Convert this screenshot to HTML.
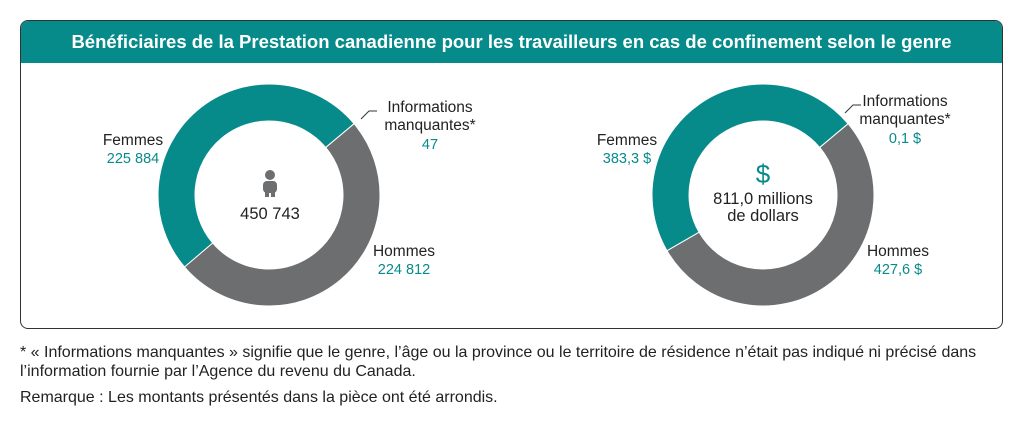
<!DOCTYPE html>
<html><head><meta charset="utf-8"><style>
body{margin:0;width:1024px;height:426px;background:#fff;font-family:"Liberation Sans",sans-serif;overflow:hidden}
.card{position:absolute;left:20px;top:20px;width:981px;height:307px;border:1.5px solid #333;border-radius:8px;overflow:hidden}
.hdr{height:42px;background:#078a8a;color:#fff;font-weight:bold;font-size:18.5px;text-align:center;line-height:42px}
.note{position:absolute;left:20px;font-size:16px;color:#222;line-height:19px}
</style></head><body>
<div class="card"><div class="hdr">Bénéficiaires de la Prestation canadienne pour les travailleurs en cas de confinement selon le genre</div></div>
<svg id="s" width="1024" height="426" style="position:absolute;left:0;top:0" font-family="Liberation Sans, sans-serif"></svg>
<div class="note" style="top:343px">* « Informations manquantes » signifie que le genre, l’âge ou la province ou le territoire de résidence n’était pas indiqué ni précisé dans<br>l’information fournie par l’Agence du revenu du Canada.</div>
<div class="note" style="top:388px">Remarque : Les montants présentés dans la pièce ont été arrondis.</div>
<script>
const categories=["Informations manquantes","Hommes","Femmes"];
const countValues=[47,224812,225884];
const dollarValues=[0.1,427.6,383.3];
const countLabels=["47","224 812","225 884"];
const dollarLabels=["0,1 $","427,6 $","383,3 $"];
const colors=["#e8a0c0","#6d6e70","#078a8a"];
const NS="http://www.w3.org/2000/svg",svg=document.getElementById('s');
function mk(t,a,p){const e=document.createElementNS(NS,t);for(const k in a)e.setAttribute(k,a[k]);(p||svg).appendChild(e);return e;}
function txt(x,y,s,fill,size,anchor,weight,name){const t=mk('text',{x:x,y:y,fill:fill,'font-size':size,'text-anchor':anchor,'font-weight':weight||'normal'});t.textContent=s;

return t;}
function donut(cx,cy,vals,labels,id){
 const R=111,r=74,tot=vals.reduce((a,b)=>a+b,0);let a=50*Math.PI/180;
 vals.forEach((v,i)=>{const a1=a+v/tot*2*Math.PI;const pt=(rr,an)=>[cx+rr*Math.sin(an),cy-rr*Math.cos(an)];
  const big=(a1-a)>Math.PI?1:0;const p0=pt(R,a),p1=pt(R,a1),q1=pt(r,a1),q0=pt(r,a);
  const p=mk('path',{d:`M${p0}A${R},${R} 0 ${big} 1 ${p1}L${q1}A${r},${r} 0 ${big} 0 ${q0}Z`,fill:colors[i],stroke:'#fff','stroke-width':1});
  
  a=a1;});
 txt(cx-136,cy-50,'Femmes','#222',15.5,'middle','normal',id+'-label-femmes');
 txt(cx-136,cy-32,labels[2],'#078a8a',14.5,'middle','normal',id+'-value-femmes');
 txt(cx+135,cy+61,'Hommes','#222',15.5,'middle','normal',id+'-label-hommes');
 txt(cx+135,cy+79,labels[1],'#078a8a',14.5,'middle','normal',id+'-value-hommes');
}
donut(269,195,countValues,countLabels,'count');
donut(763,195,dollarValues,dollarLabels,'dollar');
function miss(x,y,val,name,lx1,ly1){
 const l=mk('path',{d:`M${lx1},${ly1}L${lx1+8},${ly1-8}L${lx1+16},${ly1-8}`,stroke:'#333',fill:'none','stroke-width':1});
 
 
 txt(x,y,'Informations','#222',15.5,'middle','normal',name+'-label');
 txt(x,y+18,'manquantes*','#222',15.5,'middle','normal',name+'-label2');
 txt(x,y+37,val,'#078a8a',14.5,'middle','normal',name+'-value');
}
miss(430,112,countLabels[0],'count-missing',361,119);
miss(905,106,dollarLabels[0],'dollar-missing',845,113);
const g=mk('g',{fill:'#6d6e70'});
mk('circle',{cx:270,cy:175,r:5},g);mk('rect',{x:263,y:181,width:14,height:12,rx:4},g);mk('rect',{x:265,y:190,width:4,height:7},g);mk('rect',{x:271,y:190,width:4,height:7},g);
txt(270,219,'450 743','#222',16.5,'middle','normal','count-total');
txt(763,183,'$','#078a8a',26,'middle','normal','dollar-icon');
txt(763,204,'811,0 millions','#222',16.5,'middle','normal','dollar-total');
txt(763,221,'de dollars','#222',16.5,'middle','normal','dollar-total-2');
</script>
</body></html>
